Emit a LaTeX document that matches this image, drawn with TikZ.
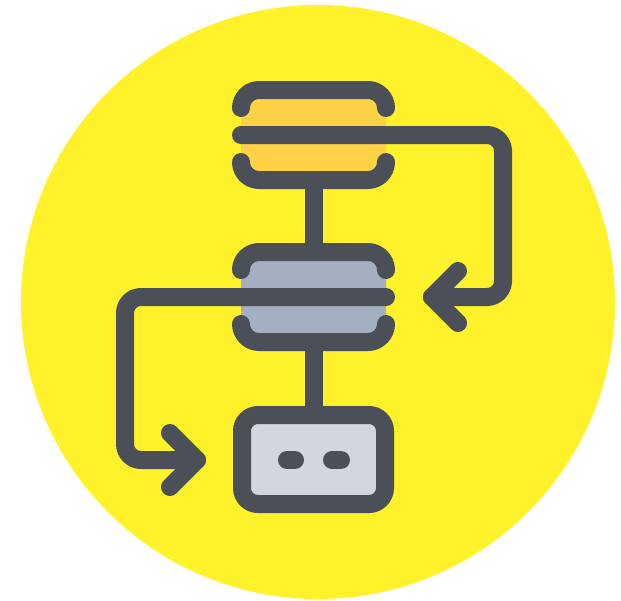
\documentclass[tikz,border=0pt]{standalone}
\usetikzlibrary{positioning,calc}
\definecolor{discyellow}{HTML}{FFF22A}
\definecolor{inkgray}{HTML}{4A4F58}
\definecolor{cardorange}{HTML}{FFD144}
\definecolor{cardblue}{HTML}{A4AFC1}
\definecolor{cardpale}{HTML}{D1D6DF}
\begin{document}
\begin{tikzpicture}[
  x=1pt, y=-1pt,
  line/.style={draw=inkgray, line width=18pt, line cap=round, line join=round},
  loopline/.style={line, rounded corners=16pt},
  bracket/.style={line, rounded corners=18pt},
  card/.style={
    rectangle, rounded corners=18pt, inner sep=0pt, outer sep=0pt,
    minimum width=145pt, minimum height=90pt
  }
]
\useasboundingbox (0,0) rectangle (621,600);

% Background disc
\fill[discyellow] (318,302) circle (297pt);

% Cards
\node[card, fill=cardorange] (topcard) at (313.5,135) {};
\node[card, fill=cardblue, below=72pt of topcard] (midcard) {};
\node[card, fill=cardpale, draw=inkgray, line width=18pt, minimum width=143pt, minimum height=89pt, rounded corners=16pt, below=73pt of midcard] (lowcard) {};

% Links between cards
\draw[line] (topcard.south) -- (midcard.north);
\draw[line] (midcard.south) -- (lowcard.north);

% Brackets of the top card
\draw[bracket] ($(topcard.west)+(0,-27)$) |- (topcard.north) -| ($(topcard.east)+(0,-27)$);
\draw[bracket] ($(topcard.west)+(0,27)$) |- (topcard.south) -| ($(topcard.east)+(0,27)$);

% Brackets of the middle card
\draw[bracket] ($(midcard.west)+(0,-27)$) |- (midcard.north) -| ($(midcard.east)+(0,-27)$);
\draw[bracket] ($(midcard.west)+(0,27)$) |- (midcard.south) -| ($(midcard.east)+(0,27)$);

% Right loop
\coordinate (rightup) at (503,135);
\coordinate (rightdown) at (503,297);
\coordinate (righttip) at (432,297);
\coordinate (rightwingA) at (458,271);
\coordinate (rightwingB) at (458,323);
\draw[loopline] (topcard.west) -- (rightup) -- (rightdown) -- (righttip);
\draw[line] (rightwingA) -- (righttip) -- (rightwingB);

% Left loop
\coordinate (leftup) at (125,297);
\coordinate (leftdown) at (125,460);
\coordinate (lefttip) at (197,460);
\coordinate (leftwingA) at (170,433);
\coordinate (leftwingB) at (170,487);
\draw[loopline] (midcard.east) -- (leftup) -- (leftdown) -- (lefttip);
\draw[line] (leftwingA) -- (lefttip) -- (leftwingB);

% Dots in the low card
\draw[line] (287,460) -- (295,460);
\draw[line] (332,460) -- (341,460);

\end{tikzpicture}
\end{document}
